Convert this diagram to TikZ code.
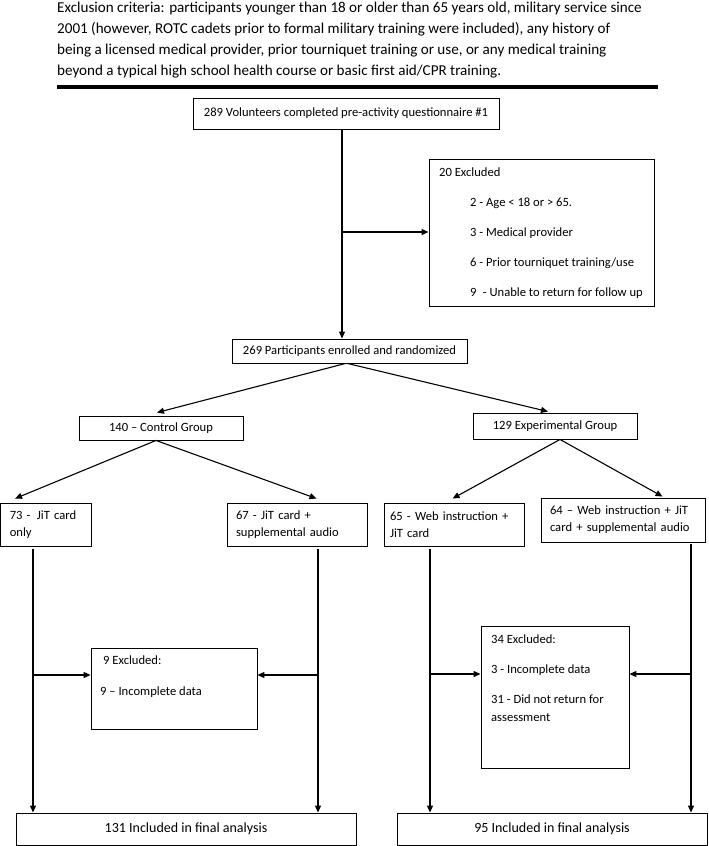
\documentclass[tikz,border=0pt]{standalone}
\usepackage{fontspec}
\setmainfont{Carlito}
\usetikzlibrary{arrows.meta}
\begin{document}
\begin{tikzpicture}[x=1pt,y=-1pt,
  box/.style={draw, line width=0.9pt, inner sep=0pt, font=\fontsize{12.6}{14}\selectfont},
  finbox/.style={box, font=\fontsize{14}{16}\selectfont},
  gbox/.style={box, align=left, font=\fontsize{12.6}{17}\selectfont},
  txt/.style={inner sep=0pt, anchor=base west, font=\fontsize{12.6}{14}\selectfont},
  arr/.style={line width=1.1pt, -{Triangle[length=7pt,width=6pt]}},
  ln/.style={line width=1.1pt}]
\useasboundingbox (0,0) rectangle (709,846);

% header
\node[anchor=north west, inner sep=0pt, align=left, font=\fontsize{15.1}{21}\selectfont] (hdr) at (57,2)
 {Exclusion criteria: participants younger than 18 or older than 65 years old, military service since\\
  2001 (however, ROTC cadets prior to formal military training were included), any history of\\
  being a licensed medical provider, prior tourniquet training or use, or any medical training\\
  beyond a typical high school health course or basic first aid/CPR training.};
\coordinate (rl) at (57,87);
\coordinate (rr) at (658,87);
\draw[line width=3.5pt] (rl) -- (rr);

% boxes
\node[box, minimum width=306pt, minimum height=31pt] (b1) at (346,113.5) {289 Volunteers completed pre-activity questionnaire \#1};
\node[box, minimum width=225pt, minimum height=147pt] (exc1) at (541.5,232.5) {};
\node[txt] (e1a) at (439,176) {20 Excluded};
\node[txt] (e1b) at (470,206) {2 - Age < 18 or > 65.};
\node[txt] (e1c) at (470,236) {3 - Medical provider};
\node[txt] (e1d) at (470,266) {6 - Prior tourniquet training/use};
\node[txt] (e1e) at (470,296) {9\hspace{0.5em}- Unable to return for follow up};

\node[box, minimum width=235pt, minimum height=24pt] (b2) at (349.5,351) {269 Participants enrolled and randomized};
\node[box, minimum width=164pt, minimum height=24pt] (ctrl) at (161,428) {140 -- Control Group};
\node[box, minimum width=164pt, minimum height=26pt] (exp) at (555,426) {129 Experimental Group};

\node[gbox, minimum width=90.5pt, minimum height=43pt, text width=72pt, inner xsep=9pt] (g73) at (45.75,524.5) {73 -\hspace{0.5em}JiT card\\only};
\node[gbox, minimum width=140pt, minimum height=43pt, text width=122pt, inner xsep=9pt] (g67) at (297,524.5) {67 - JiT card +\\supplemental audio};
\node[gbox, minimum width=140pt, minimum height=43pt, text width=128pt, inner xsep=6pt] (g65) at (454,524.5) {65 - Web instruction +\\JiT card};
\node[gbox, minimum width=160pt, minimum height=44pt, text width=146pt, inner xsep=9pt] (g64) at (623,520) {64 -- Web instruction + JiT\\card + supplemental audio};

\node[box, minimum width=166pt, minimum height=81pt] (exc2) at (174,688.5) {};
\node[txt] (e2a) at (103,664) {9 Excluded:};
\node[txt] (e2b) at (100,695) {9 -- Incomplete data};

\node[box, minimum width=148pt, minimum height=142pt] (exc3) at (555,697) {};
\node[txt] (e3a) at (491,643) {34 Excluded:};
\node[txt] (e3b) at (491,673) {3 - Incomplete data};
\node[txt] (e3c) at (491,703) {31 - Did not return for};
\node[txt] (e3d) at (491,721) {assessment};

\node[finbox, minimum width=340pt, minimum height=32pt] (fin1) at (186,829) {131 Included in final analysis};
\node[finbox, minimum width=310pt, minimum height=32pt] (fin2) at (552,829) {95 Included in final analysis};

% connectors
\coordinate (p1) at (342,232);
\draw[arr] (b1.south -| p1) -- (b2.north -| p1);
\draw[arr] (p1) -- (exc1.west |- p1);

\draw[arr] ([xshift=-4pt]b2.south) -- ([xshift=-4pt,yshift=3pt]ctrl.north);
\draw[arr] ([xshift=-2pt]b2.south) -- ([xshift=-7pt,yshift=1pt]exp.north);

\draw[arr] ([xshift=-5pt]ctrl.south) -- ([xshift=15pt,yshift=4pt]g73.north west);
\draw[arr] ([xshift=-5pt]ctrl.south) -- ([xshift=90pt,yshift=4pt]g67.north west);
\draw[arr] ([xshift=5pt]exp.south) -- ([xshift=69pt,yshift=4pt]g65.north west);
\draw[arr] ([xshift=5pt]exp.south) -- ([xshift=122pt,yshift=1pt]g64.north west);

\coordinate (v1) at (33,675);
\coordinate (v2) at (318,675);
\coordinate (v3) at (430,674);
\coordinate (v4) at (691,674);
\draw[arr] ([yshift=-3pt]g73.south -| v1) -- (fin1.north -| v1);
\draw[arr] ([yshift=-3pt]g67.south -| v2) -- (fin1.north -| v2);
\draw[arr] ([yshift=-3pt]g65.south -| v3) -- (fin2.north -| v3);
\draw[arr] ([yshift=-2pt]g64.south -| v4) -- (fin2.north -| v4);
\draw[arr] (v1) -- (exc2.west |- v1);
\draw[arr] (v2) -- (exc2.east |- v2);
\draw[arr] (v3) -- (exc3.west |- v3);
\draw[arr] (v4) -- (exc3.east |- v4);
\end{tikzpicture}
\end{document}
